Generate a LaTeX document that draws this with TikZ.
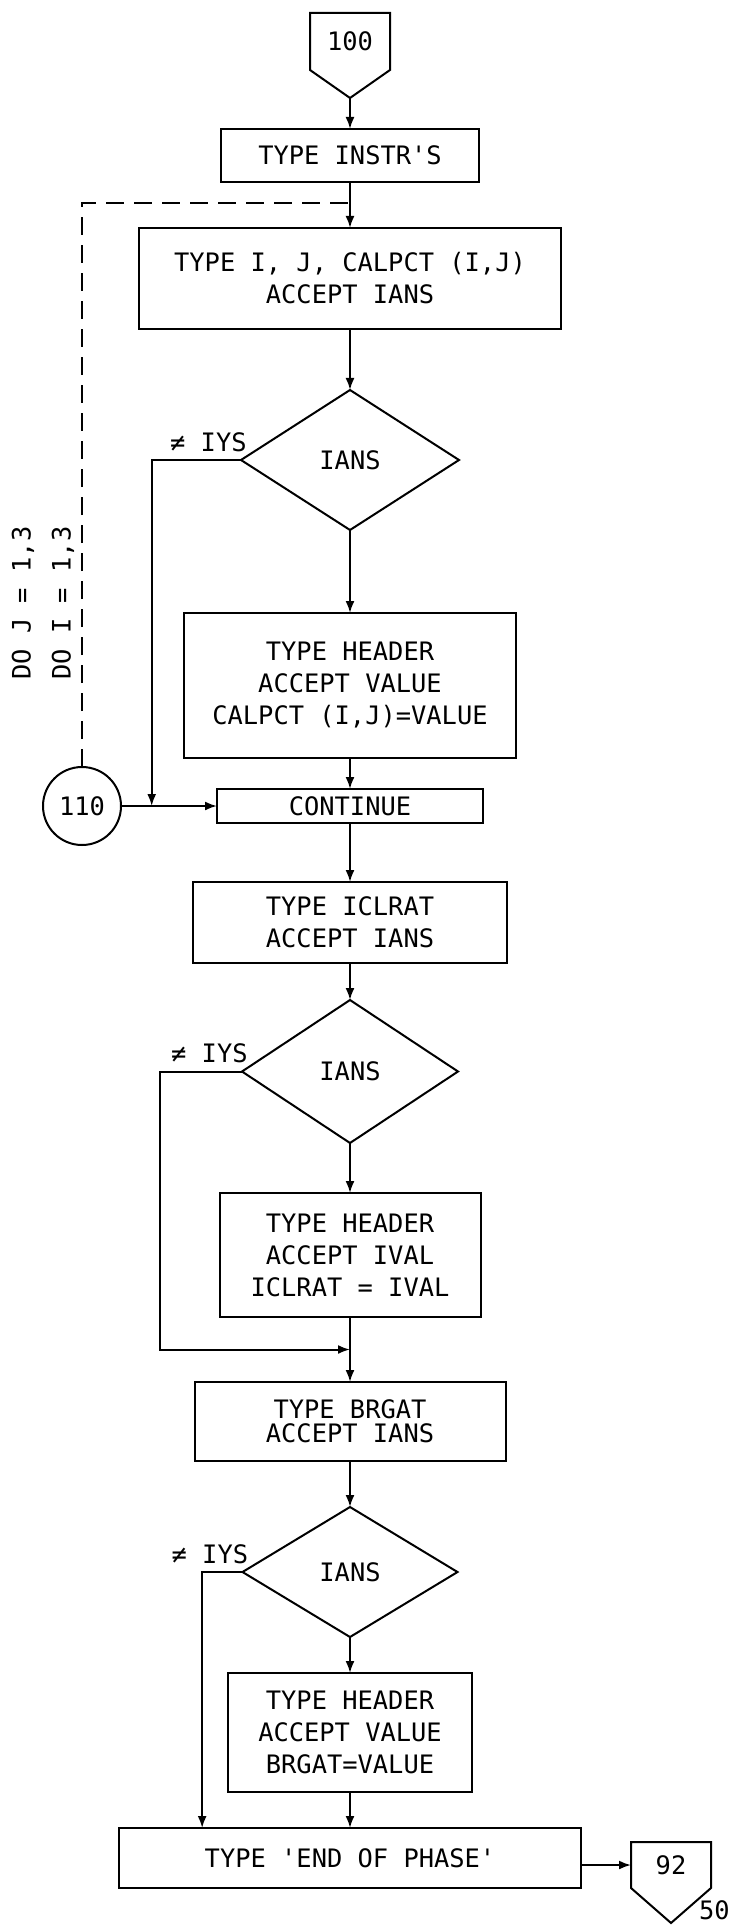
\documentclass[tikz,border=0pt]{standalone}
\usepackage{fontspec}
\newfontfamily\flowfont[Ligatures=TeXOff]{DejaVu Sans Mono}
\usetikzlibrary{arrows.meta,positioning,shapes.geometric,calc}

\begin{document}
\begin{tikzpicture}[x=0.5pt, y=-0.5pt, >={Latex[length=6pt,width=4.5pt]},
        every node/.style={font=\flowfont\fontsize{12.7}{16}\selectfont},
        box/.style={draw, line width=1pt, inner sep=2pt, outer sep=0pt, align=center},
        dec/.style={draw, diamond, line width=1pt, inner sep=1pt, outer sep=0pt, aspect=1.5},
        conn/.style={inner sep=0pt, outer sep=0pt, minimum width=40pt, minimum height=28.5pt},
        lbl/.style={inner sep=1pt, anchor=south east},
        flow/.style={line width=1pt}]
      \useasboundingbox (0,0) rectangle (733,1925);
      \node[conn] (c100) at (350,41.5) {100};
      \coordinate (c100tip) at ($(c100.south)+(0,28)$);
      \draw[flow] (c100.south west) -- (c100.north west) -- (c100.north east) -- (c100.south east) -- (c100tip) -- cycle;
      \node[box, below=29.5pt of c100, minimum width=129pt, minimum height=26.5pt] (inst) {TYPE INSTR'S};
      \node[box, below=23pt of inst, minimum width=211pt, minimum height=50.5pt] (ask) {TYPE I, J, CALPCT (I,J)\\ACCEPT IANS};
      \node[dec, below=30.5pt of ask, minimum width=109pt, minimum height=70pt] (q1) {IANS};
      \node[box, below=41.5pt of q1, minimum width=166pt, minimum height=72.5pt] (hdr1) {TYPE HEADER\\ACCEPT VALUE\\CALPCT (I,J)=VALUE};
      \node[box, below=15.5pt of hdr1, minimum width=133pt, minimum height=17pt] (cont) {CONTINUE};
      \node[draw, circle, line width=1pt, minimum size=39pt, inner sep=0pt, outer sep=0pt, left=48pt of cont] (c110) {110};
      \node[box, below=29.5pt of cont, minimum width=157pt, minimum height=40.5pt] (iclr) {TYPE ICLRAT\\ACCEPT IANS};
      \node[dec, below=18.5pt of iclr, minimum width=108pt, minimum height=71.5pt] (q2) {IANS};
      \node[box, below=25pt of q2, minimum width=130.5pt, minimum height=62pt] (hdr2) {TYPE HEADER\\ACCEPT IVAL\\ICLRAT = IVAL};
      \node[box, below=32.5pt of hdr2, minimum width=155.5pt, minimum height=39.5pt] (brg) {TYPE BRGAT\\[-4pt]ACCEPT IANS};
      \node[dec, below=23pt of brg, minimum width=107.5pt, minimum height=65pt] (q3) {IANS};
      \node[box, below=18pt of q3, minimum width=122pt, minimum height=59.5pt] (hdr3) {TYPE HEADER\\ACCEPT VALUE\\BRGAT=VALUE};
      \node[box, below=18pt of hdr3, minimum width=231pt, minimum height=30pt] (endp) {TYPE 'END OF PHASE'};
      \node[conn, right=25pt of endp, yshift=-3.5pt, minimum height=23pt] (c92) {92};
      \coordinate (c92tip) at ($(c92.south)+(0,35)$);
      \draw[flow] (c92.south west) -- (c92.north west) -- (c92.north east) -- (c92.south east) -- (c92tip) -- cycle;
      \node[anchor=south east, inner sep=0pt] (pg) at (730,1920) {50};
      \node[rotate=90] (doj) at (23,603) {DO J = 1,3};
      \node[rotate=90] (doi) at (63,603) {DO I = 1,3};
      \node[lbl] (ne1) at ($(q1.west)+(8,-6)$) {≠ IYS};
      \node[lbl] (ne2) at ($(q2.west)+(8,-6)$) {≠ IYS};
      \node[lbl] (ne3) at ($(q3.west)+(8,-6)$) {≠ IYS};
      \coordinate (loop) at ($(inst.south)!0.46!(ask.north)$);
      \coordinate (jn1) at ($(c110.east)!0.32!(cont.west)$);
      \coordinate (jn2) at ($(hdr2.south)!0.5!(brg.north)$);
      \coordinate (jn3) at ($(endp.north west)!0.18!(endp.north east)$);
      \draw[flow,->] (c100tip) -- (inst);
      \draw[flow,->] (inst) -- (ask);
      \draw[line width=0.9pt, dash pattern=on 9pt off 5pt] (c110) |- (loop);
      \draw[flow,->] (ask) -- (q1);
      \draw[flow,->] (q1) -- (hdr1);
      \draw[flow,->] (hdr1) -- (cont);
      \draw[flow,->] (c110) -- (cont);
      \draw[flow,->] (q1.west) -| (jn1);
      \draw[flow,->] (cont) -- (iclr);
      \draw[flow,->] (iclr) -- (q2);
      \draw[flow,->] (q2) -- (hdr2);
      \draw[flow,->] (hdr2) -- (brg);
      \draw[flow,->] (q2.west) -- ++(-82,0) |- (jn2);
      \draw[flow,->] (brg) -- (q3);
      \draw[flow,->] (q3) -- (hdr3);
      \draw[flow,->] (hdr3) -- (endp);
      \draw[flow,->] (q3.west) -| (jn3);
      \draw[flow,->] (endp.east |- c92.west) -- (c92.west);
    \end{tikzpicture}
\end{document}
